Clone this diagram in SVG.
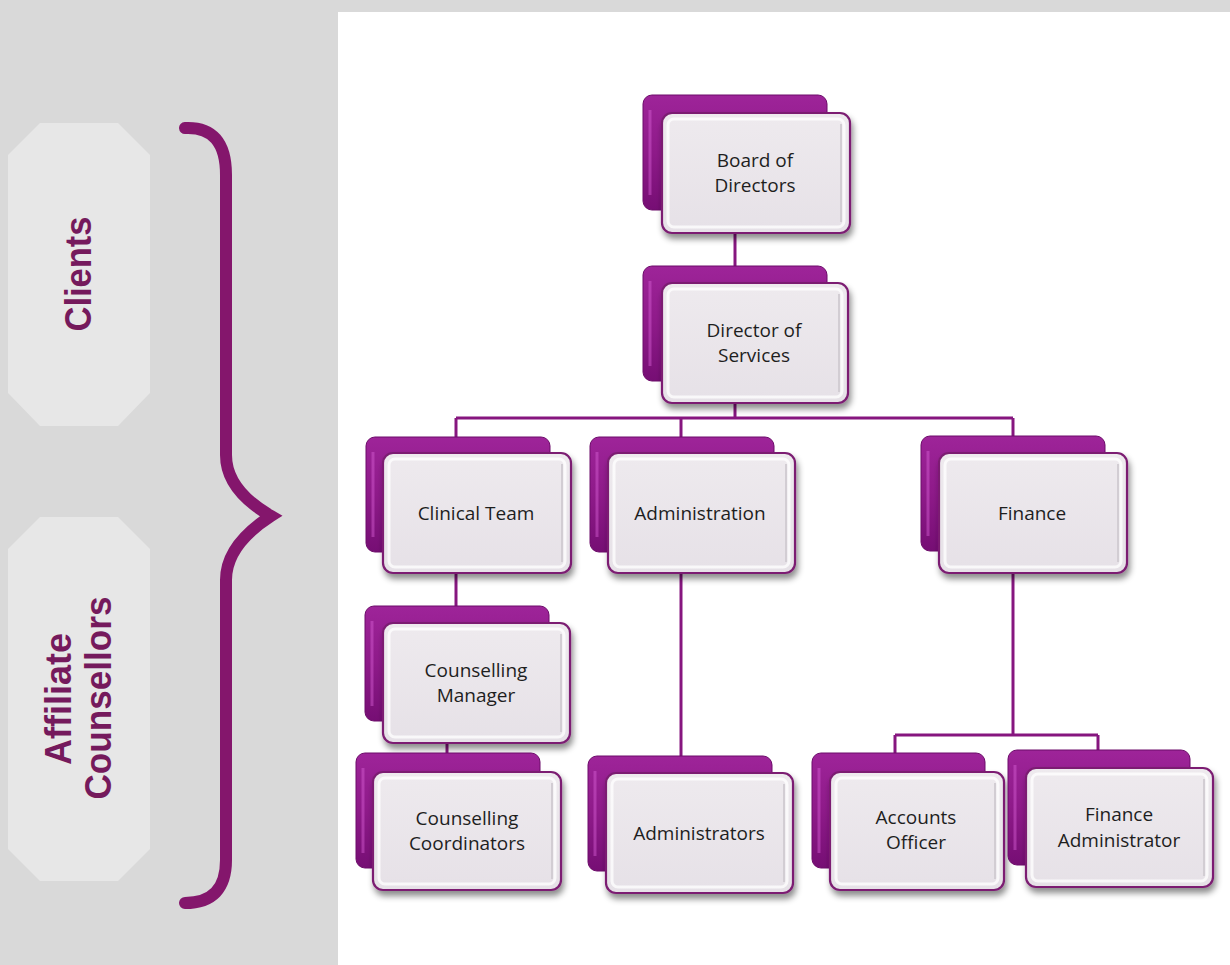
<svg xmlns="http://www.w3.org/2000/svg" width="1230" height="965" viewBox="0 0 1230 965">
<defs>
<linearGradient id="gBack" x1="0" y1="0" x2="0" y2="1">
<stop offset="0" stop-color="#9e2499"/>
<stop offset="0.5" stop-color="#8e1a89"/>
<stop offset="1" stop-color="#760e74"/>
</linearGradient>
<linearGradient id="gFront" x1="0" y1="0" x2="0" y2="1">
<stop offset="0" stop-color="#eeeaee"/>
<stop offset="1" stop-color="#e6e1e7"/>
</linearGradient>
<filter id="sh" x="-10%" y="-10%" width="125%" height="130%">
<feDropShadow dx="2" dy="5" stdDeviation="3" flood-color="#000" flood-opacity="0.45"/>
</filter>
</defs>
<style>
.back{fill:url(#gBack);stroke:#6d0c6a;stroke-width:1}
.hl{fill:none;stroke:#d860d4;stroke-width:3;stroke-opacity:0.45}
.front{fill:url(#gFront);stroke:#7b1f72;stroke-width:2.2;filter:url(#sh)}
.bevel{fill:none;stroke:#ffffff;stroke-width:3;stroke-opacity:0.75}
.bevel2{fill:none;stroke:#d2cdd3;stroke-width:2}
.lbl{font-family:"Open Sans","Noto Sans",sans-serif;font-size:19px;fill:#1e1e1e;text-anchor:middle}
.side{font-family:"Liberation Sans",Arial,sans-serif;font-weight:bold;font-size:37px;fill:#751a5c;text-anchor:middle}
.conn{fill:none;stroke:#86167f;stroke-width:3}
</style>
<rect x="0" y="0" width="1230" height="965" fill="#d9d9d9"/>
<rect x="338" y="12" width="892" height="953" fill="#ffffff"/>

<g id="clients">
<polygon points="40,123 118,123 150,155 150,393 118,426 40,426 8,393 8,155" fill="#e7e7e7"/>
<text class="side" transform="translate(91,274) rotate(-90)" textLength="115" lengthAdjust="spacingAndGlyphs">Clients</text>
</g>
<g id="affiliate">
<polygon points="40,517 118,517 150,549 150,849 118,881 40,881 8,849 8,549" fill="#e7e7e7"/>
<text class="side" transform="translate(71,699) rotate(-90)" textLength="132" lengthAdjust="spacingAndGlyphs">Affiliate</text>
<text class="side" transform="translate(111,698) rotate(-90)" textLength="203" lengthAdjust="spacingAndGlyphs">Counsellors</text>
</g>
<g id="brace">
<path d="M185,128 Q226,126 226,175 L226,455 Q226,490 271,516 Q226,545 226,580 L226,860 Q226,903 185,903" fill="none" stroke="#84166c" stroke-width="12" stroke-linecap="round" stroke-linejoin="miter"/>
</g>

<g id="connectors">
<line class="conn" x1="735" y1="230" x2="735" y2="268"/>
<line class="conn" x1="735" y1="400" x2="735" y2="418"/>
<line class="conn" x1="456" y1="418" x2="1013" y2="418"/>
<line class="conn" x1="456" y1="418" x2="456" y2="440"/>
<line class="conn" x1="681" y1="418" x2="681" y2="440"/>
<line class="conn" x1="1013" y1="418" x2="1013" y2="440"/>
<line class="conn" x1="456" y1="570" x2="456" y2="608"/>
<line class="conn" x1="447" y1="740" x2="447" y2="756"/>
<line class="conn" x1="681" y1="570" x2="681" y2="758"/>
<line class="conn" x1="1013" y1="570" x2="1013" y2="735"/>
<line class="conn" x1="895" y1="735" x2="1098" y2="735"/>
<line class="conn" x1="895" y1="735" x2="895" y2="756"/>
<line class="conn" x1="1098" y1="735" x2="1098" y2="752"/>
</g>

<g id="board">
<rect class="back" x="643" y="95" width="184" height="115" rx="9"/>
<path class="hl" d="M650,110 L650,195"/>
<rect class="front" x="662" y="113" width="188" height="120" rx="10"/>
<rect class="bevel" x="668" y="119" width="176" height="108" rx="6"/>
<path class="bevel2" d="M841,124 L841,222"/>
<text class="lbl" x="755" y="167">Board of</text>
<text class="lbl" x="755" y="192">Directors</text>
</g>
<g id="director">
<rect class="back" x="643" y="266" width="184" height="115" rx="9"/>
<path class="hl" d="M650,281 L650,366"/>
<rect class="front" x="662" y="283" width="186" height="120" rx="10"/>
<rect class="bevel" x="668" y="289" width="174" height="108" rx="6"/>
<path class="bevel2" d="M839,294 L839,392"/>
<text class="lbl" x="754" y="337">Director of</text>
<text class="lbl" x="754" y="362">Services</text>
</g>
<g id="clinical">
<rect class="back" x="366" y="437" width="184" height="115" rx="9"/>
<path class="hl" d="M373,452 L373,537"/>
<rect class="front" x="383" y="453" width="188" height="120" rx="10"/>
<rect class="bevel" x="389" y="459" width="176" height="108" rx="6"/>
<path class="bevel2" d="M562,464 L562,562"/>
<text class="lbl" x="476" y="520">Clinical Team</text>
</g>
<g id="administration">
<rect class="back" x="590" y="437" width="184" height="115" rx="9"/>
<path class="hl" d="M597,452 L597,537"/>
<rect class="front" x="608" y="453" width="187" height="120" rx="10"/>
<rect class="bevel" x="614" y="459" width="175" height="108" rx="6"/>
<path class="bevel2" d="M786,464 L786,562"/>
<text class="lbl" x="700" y="520">Administration</text>
</g>
<g id="finance">
<rect class="back" x="921" y="436" width="184" height="115" rx="9"/>
<path class="hl" d="M928,451 L928,536"/>
<rect class="front" x="939" y="453" width="188" height="120" rx="10"/>
<rect class="bevel" x="945" y="459" width="176" height="108" rx="6"/>
<path class="bevel2" d="M1118,464 L1118,562"/>
<text class="lbl" x="1032" y="520">Finance</text>
</g>
<g id="counselling-manager">
<rect class="back" x="365" y="606" width="184" height="115" rx="9"/>
<path class="hl" d="M372,621 L372,706"/>
<rect class="front" x="383" y="623" width="187" height="120" rx="10"/>
<rect class="bevel" x="389" y="629" width="175" height="108" rx="6"/>
<path class="bevel2" d="M561,634 L561,732"/>
<text class="lbl" x="476" y="677">Counselling</text>
<text class="lbl" x="476" y="702">Manager</text>
</g>
<g id="counselling-coordinators">
<rect class="back" x="356" y="753" width="184" height="115" rx="9"/>
<path class="hl" d="M363,768 L363,853"/>
<rect class="front" x="373" y="772" width="188" height="118" rx="10"/>
<rect class="bevel" x="379" y="778" width="176" height="106" rx="6"/>
<path class="bevel2" d="M552,783 L552,879"/>
<text class="lbl" x="467" y="825">Counselling</text>
<text class="lbl" x="467" y="850">Coordinators</text>
</g>
<g id="administrators">
<rect class="back" x="588" y="756" width="184" height="115" rx="9"/>
<path class="hl" d="M595,771 L595,856"/>
<rect class="front" x="606" y="773" width="187" height="120" rx="10"/>
<rect class="bevel" x="612" y="779" width="175" height="108" rx="6"/>
<path class="bevel2" d="M784,784 L784,882"/>
<text class="lbl" x="699" y="840">Administrators</text>
</g>
<g id="accounts-officer">
<rect class="back" x="812" y="753" width="173" height="115" rx="9"/>
<path class="hl" d="M819,768 L819,853"/>
<rect class="front" x="830" y="772" width="174" height="118" rx="10"/>
<rect class="bevel" x="836" y="778" width="162" height="106" rx="6"/>
<path class="bevel2" d="M995,783 L995,879"/>
<text class="lbl" x="916" y="824">Accounts</text>
<text class="lbl" x="916" y="849">Officer</text>
</g>
<g id="finance-administrator">
<rect class="back" x="1008" y="750" width="182" height="115" rx="9"/>
<path class="hl" d="M1015,765 L1015,850"/>
<rect class="front" x="1026" y="768" width="187" height="119" rx="10"/>
<rect class="bevel" x="1032" y="774" width="175" height="107" rx="6"/>
<path class="bevel2" d="M1204,779 L1204,876"/>
<text class="lbl" x="1119" y="821">Finance</text>
<text class="lbl" x="1119" y="847">Administrator</text>
</g>
</svg>
